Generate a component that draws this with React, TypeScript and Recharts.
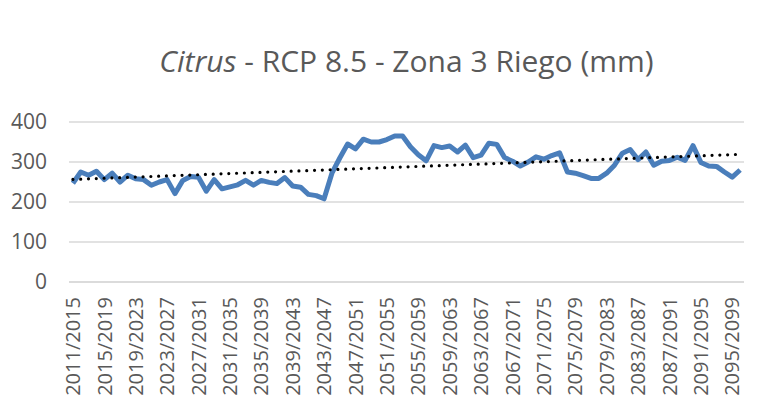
import React from "react";
import { LineChart, Line, CartesianGrid, XAxis, YAxis } from "recharts";

// periodos de 5 años (2011/2015 ... 2096/2100)
const startYears: number[] = [];
for (let y = 2011; y <= 2096; y++) startYears.push(y);
const periods = startYears.map((y) => `${y}/${y + 4}`);

// riego (mm)
const riego = [
  247, 275, 267, 277, 256, 272, 250, 267, 258, 256,
  242, 250, 256, 221, 254, 264, 262, 227, 256, 233,
  238, 243, 254, 242, 254, 249, 246, 261, 240, 237,
  219, 216, 208, 272, 310, 345, 333, 357, 350, 350,
  356, 365, 365, 338, 318, 303, 341, 336, 340, 325,
  342, 311, 317, 347, 344, 311, 302, 290, 300, 313,
  307, 316, 323, 275, 272, 266, 259, 259, 272, 292,
  322, 331, 306, 325, 292, 302, 304, 312, 304, 341,
  299, 290, 289, 275, 262, 280,
];

const yTicks = [0, 100, 200, 300, 400];

// --- tendencia lineal (mínimos cuadrados) ---
const n = riego.length;
let sx = 0, sy = 0, sxy = 0, sxx = 0;
riego.forEach((v, i) => {
  sx += i;
  sy += v;
  sxy += i * v;
  sxx += i * i;
});
const m = (n * sxy - sx * sy) / (n * sxx - sx * sx);
const b = sy / n - (m * sx) / n;

const data = periods.map((p, i) => ({
  period: p,
  riego: riego[i],
  trend: m * i + b,
}));

const FONT = "'Open Sans', sans-serif";
const GREY = "#595959";

function PeriodTick({ x, y, payload }: any) {
  return (
    <g transform={`translate(${x},${y})`}>
      <text
        transform="rotate(-90)"
        textAnchor="end"
        dy="0.36em"
        fill={GREY}
        fontSize={20}
        fontFamily={FONT}
      >
        {payload.value}
      </text>
    </g>
  );
}

export default function App() {
  return (
    <div
      style={{
        position: "absolute",
        left: 0,
        top: 0,
        width: 772,
        height: 416,
        background: "#fff",
      }}
    >
      <div
        style={{
          position: "absolute",
          left: 69,
          width: 675,
          top: 46,
          textAlign: "center",
          fontFamily: FONT,
          fontSize: 30,
          lineHeight: 1,
          color: GREY,
          whiteSpace: "nowrap",
        }}
      >
        <i>Citrus</i> - RCP 8.5 - Zona 3 Riego (mm)
      </div>
      <LineChart
        width={772}
        height={416}
        data={data}
        margin={{ top: 122, right: 28, bottom: 4, left: 0 }}
      >
        <CartesianGrid vertical={false} stroke="#d9d9d9" strokeWidth={1.4} />
        <XAxis
          dataKey="period"
          interval={3}
          height={130}
          padding={{ left: 3.9, right: 3.9 }}
          axisLine={{ stroke: "#d9d9d9", strokeWidth: 1.4 }}
          tickLine={false}
          tickSize={0}
          tickMargin={15}
          tick={<PeriodTick />}
        />
        <YAxis
          width={69}
          domain={[0, 400]}
          ticks={yTicks}
          axisLine={false}
          tickLine={false}
          tickSize={0}
          tickMargin={22}
          tick={{ fill: GREY, fontSize: 21, fontFamily: FONT }}
        />
        <Line
          type="linear"
          dataKey="riego"
          stroke="#4a7ebb"
          strokeWidth={5}
          strokeLinejoin="round"
          dot={false}
          isAnimationActive={false}
        />
        <Line
          type="linear"
          dataKey="trend"
          stroke="#000"
          strokeWidth={3.2}
          strokeLinecap="round"
          strokeDasharray="0 7.8"
          dot={false}
          isAnimationActive={false}
        />
      </LineChart>
    </div>
  );
}
